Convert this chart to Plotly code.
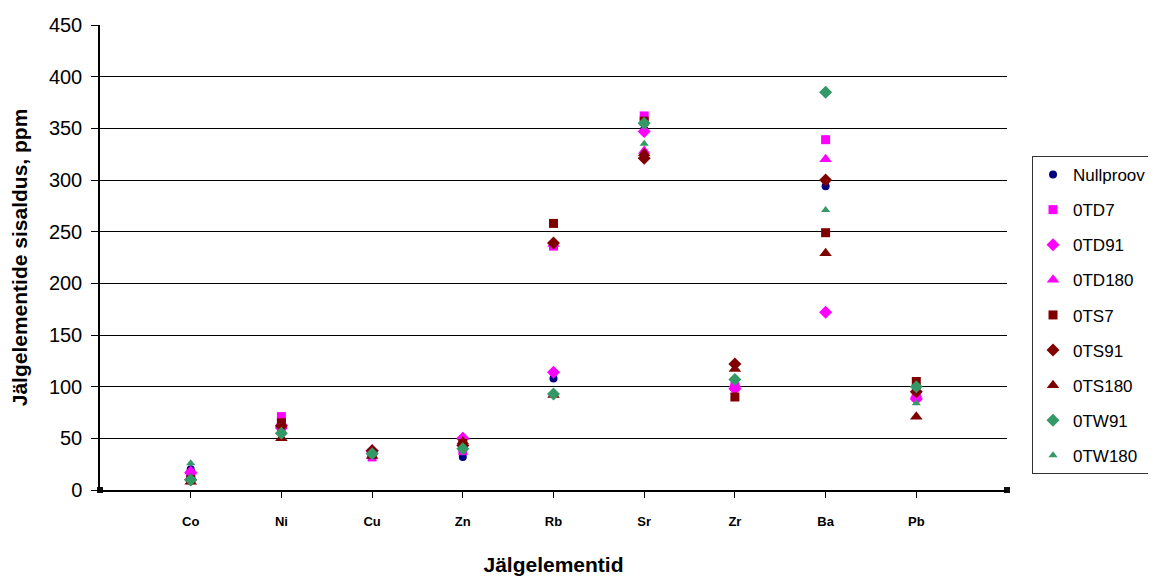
import plotly.graph_objects as go

elements = ["Co", "Ni", "Cu", "Zn", "Rb", "Sr", "Zr", "Ba", "Pb"]
xpos = [1, 2, 3, 4, 5, 6, 7, 8, 9]

nullproov = [20, 57, 35, 32, 108, 349, 100, 294, 98]
td7 = [15, 71, 32, 38, 236, 362, 100, 339, 90]
td91 = [17, 60, 38, 50, 114, 347, 98, 172, 88]
td180 = [18, 65, 39, 51, 238, 328, 102, 320, 92]
ts7 = [10, 65, 35, 45, 258, 357, 90, 249, 105]
ts91 = [10, 62, 38, 43, 239, 321, 122, 300, 95]
ts180 = [8, 50, 33, 47, 92, 326, 117, 229, 71]
tw91 = [10, 55, 35, 40, 93, 355, 107, 385, 100]
tw180 = [26, 55, 37, 42, 93, 335, 108, 271, 84]

series = [
    ("Nullproov", nullproov, "circle", "#000080", 8),
    ("0TD7", td7, "square", "#FF00FF", 9),
    ("0TD91", td91, "diamond", "#FF00FF", 10),
    ("0TD180", td180, "triangle-up", "#FF00FF", 11),
    ("0TS7", ts7, "square", "#800000", 9),
    ("0TS91", ts91, "diamond", "#800000", 10),
    ("0TS180", ts180, "triangle-up", "#800000", 11),
    ("0TW91", tw91, "diamond", "#339966", 10),
    ("0TW180", tw180, "triangle-up", "#339966", 8),
]

fig = go.Figure()
for i, (name, vals, sym, col, sz) in enumerate(series):
    fig.add_trace(go.Scatter(
        x=xpos, y=vals, mode="markers", name=name, legendgroup="g%d" % i,
        marker=dict(symbol=sym, color=col, size=sz, line=dict(width=0)),
    ))

# axis-end markers
end_x = [0, 10]
end_y = [0, 0]
fig.add_trace(go.Scatter(
    x=end_x, y=end_y, mode="markers", showlegend=False, hoverinfo="skip",
    marker=dict(symbol="square", color="#111111", size=6, line=dict(width=0)),
    cliponaxis=False,
))

# page body has an 8px margin, so the figure is sized/offset to compensate
fig.update_layout(
    width=1148, height=568,
    margin=dict(l=92, r=149, t=17, b=86),
    paper_bgcolor="white", plot_bgcolor="white",
    font=dict(family="Arial, Liberation Sans, sans-serif", color="#000000"),
    legend=dict(
        xref="container", yref="paper",
        x=0.892, y=0.7183, xanchor="left", yanchor="top",
        bordercolor="#333333", borderwidth=1, bgcolor="white",
        font=dict(size=17, color="#000000"),
        tracegroupgap=10, traceorder="grouped",
    ),
    xaxis=dict(
        range=[0, 10], tickvals=xpos, ticktext=elements,
        showgrid=False, zeroline=False, automargin=False,
        showline=True, linecolor="#000000", linewidth=1.5,
        ticks="outside", ticklen=6, tickcolor="#000000", tickwidth=1,
        ticklabelstandoff=13,
        tickfont=dict(family="Liberation Sans Narrow, Arial Narrow, sans-serif", size=13, color="#000000", weight="bold"),
        title=dict(text="<b>Jälgelementid</b>", font=dict(size=21, color="#000000"), standoff=34),
    ),
    yaxis=dict(
        range=[0, 450], dtick=50, automargin=False,
        showgrid=True, gridcolor="#000000", gridwidth=1.2,
        zeroline=False,
        showline=True, linecolor="#000000", linewidth=1.5,
        ticks="outside", ticklen=7, tickcolor="#000000",
        ticklabelstandoff=5,
        tickfont=dict(size=20, color="#000000"),
        title=dict(text="<b>Jälgelementide sisaldus, ppm</b>", font=dict(size=21, color="#000000"), standoff=16),
    ),
)

fig.write_html("out.html")
